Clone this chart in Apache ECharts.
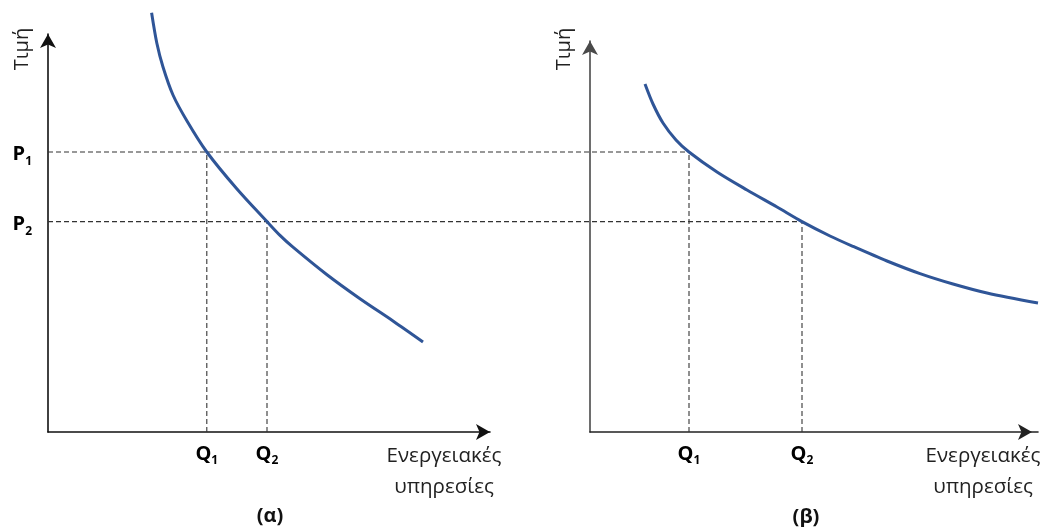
<!DOCTYPE html>
<html>
<head>
<meta charset="utf-8">
<script src="https://cdn.jsdelivr.net/npm/echarts@6/dist/echarts.min.js"></script>
<style>
html,body{margin:0;padding:0;background:#ffffff;}
#chart{width:1048px;height:527px;}
</style>
</head>
<body>
<div id="chart"></div>
<script>
// ---- data (arbitrary units) ----
const priceLevels = [7.0, 5.26];         // P1, P2
const priceLabels = ['P1', 'P2'];
const qtyA = [3.97, 5.475];              // panel (α): Q1, Q2
const qtyB = [2.475, 5.3];               // panel (β): Q1, Q2
const qtyLabels = ['Q1', 'Q2'];
const curveA = [
  [2.59, 10.48], [2.72, 9.725], [2.875, 9.125], [3.125, 8.425], [3.475, 7.775],
  [3.97, 7.0], [4.725, 6.075], [5.475, 5.26], [5.8, 4.915], [6.125, 4.62],
  [6.975, 3.93], [7.8, 3.33], [8.625, 2.775], [9.375, 2.25]
];
const curveB = [
  [1.375, 8.7], [1.575, 8.2], [1.825, 7.725], [2.15, 7.3], [2.475, 7.0],
  [3.175, 6.5], [3.925, 6.05], [4.675, 5.625], [5.3, 5.26], [6.0, 4.9],
  [6.575, 4.64], [7.425, 4.275], [8.25, 3.96], [9.075, 3.7], [9.925, 3.475],
  [11.2, 3.225]
];
const panelLabels = ['(α)', '(β)'];
const yAxisName = 'Τιμή';
const xAxisName = 'Ενεργειακές\nυπηρεσίες';

// ---- styles ----
const FONT = '"Open Sans", "Noto Sans", sans-serif';
const CURVE_COLOR = '#2f5597';
const DASH = { color: '#333333', width: 1.1, type: [5, 3] };

const chart = echarts.init(document.getElementById('chart'), null, { renderer: 'canvas' });

function subLabel(lbl) {
  return '{m|' + lbl[0] + '}{s|' + lbl.slice(1) + '}';
}
function matchIdx(arr, v) {
  return arr.findIndex(a => Math.abs(a - v) < 1e-6);
}
const rich = {
  m: { fontFamily: FONT, fontWeight: 'bold', fontSize: 20, color: '#000', lineHeight: 26 },
  s: { fontFamily: FONT, fontWeight: 'bold', fontSize: 12, color: '#000', lineHeight: 15, verticalAlign: 'bottom' }
};

function xAxisCfg(gridIndex, qty, color, max, arrowBack) {
  return {
    type: 'value', gridIndex: gridIndex, min: 0, max: max,
    axisLine: { show: true, onZero: false, symbol: ['none', 'arrow'], symbolSize: [12, 14],
      symbolOffset: [0, -arrowBack],
      lineStyle: { color: color, width: 1.6 } },
    axisTick: { show: false },
    splitLine: { show: false },
    axisLabel: {
      show: true, customValues: qty, margin: 9,
      formatter: v => { const i = matchIdx(qty, v); return i < 0 ? '' : subLabel(qtyLabels[i]); },
      rich: rich
    }
  };
}

function buildOption(hEnds) {
  const series = [
    { type: 'line', xAxisIndex: 0, yAxisIndex: 0, data: curveA, smooth: 0.3,
      showSymbol: false, clip: false, lineStyle: { color: CURVE_COLOR, width: 3 }, z: 5 },
    { type: 'line', xAxisIndex: 1, yAxisIndex: 1, data: curveB, smooth: 0.3,
      showSymbol: false, clip: false, lineStyle: { color: CURVE_COLOR, width: 3 }, z: 5 }
  ];
  qtyA.forEach((q, i) => {
    series.push({ type: 'line', xAxisIndex: 0, yAxisIndex: 0, data: [[q, 0], [q, priceLevels[i]]],
      showSymbol: false, lineStyle: DASH, z: 2 });
  });
  qtyB.forEach((q, i) => {
    series.push({ type: 'line', xAxisIndex: 1, yAxisIndex: 1, data: [[q, 0], [q, priceLevels[i]]],
      showSymbol: false, lineStyle: DASH, z: 2 });
  });
  if (hEnds) {
    // guides on a hidden overlay grid spanning both panels (same scale as the panels)
    priceLevels.forEach((p, i) => {
      series.push({ type: 'line', xAxisIndex: 2, yAxisIndex: 2, data: [[0, p], [hEnds[i], p]],
        showSymbol: false, lineStyle: DASH, z: 2 });
    });
  }
  return {
    animation: false,
    backgroundColor: '#ffffff',
    grid: [
      { left: 48, top: 34, width: 442, height: 398, outerBoundsMode: 'none', containLabel: false },
      { left: 590, top: 41, width: 448, height: 391, outerBoundsMode: 'none', containLabel: false },
      { left: 48, top: 34, width: 992, height: 398, outerBoundsMode: 'none', containLabel: false, show: false }
    ],
    xAxis: [
      xAxisCfg(0, qtyA, '#111111', 11.05, 0),
      xAxisCfg(1, qtyB, '#222222', 11.2, 6),
      { type: 'value', gridIndex: 2, min: 0, max: 24.8, show: false }
    ],
    yAxis: [
      { type: 'value', gridIndex: 0, min: 0, max: 9.95,
        axisLine: { show: true, onZero: false, symbol: ['none', 'arrow'], symbolSize: [12, 14],
          lineStyle: { color: '#111111', width: 1.6 } },
        axisTick: { show: false }, splitLine: { show: false },
        axisLabel: { show: true, customValues: priceLevels, margin: 16,
          formatter: v => { const i = matchIdx(priceLevels, v); return i < 0 ? '' : subLabel(priceLabels[i]); },
          rich: rich, padding: [5, 0, 0, 0] } },
      { type: 'value', gridIndex: 1, min: 0, max: 9.775,
        axisLine: { show: true, onZero: false, symbol: ['none', 'arrow'], symbolSize: [12, 14],
          lineStyle: { color: '#4a4a4a', width: 1.6 } },
        axisTick: { show: false }, splitLine: { show: false }, axisLabel: { show: false } },
      { type: 'value', gridIndex: 2, min: 0, max: 9.95, show: false }
    ],
    graphic: [
      { type: 'text', x: 22, y: 49, rotation: Math.PI / 2,
        style: { text: yAxisName, font: '20px ' + FONT, fill: '#222', align: 'center', verticalAlign: 'middle' } },
      { type: 'text', x: 564, y: 49, rotation: Math.PI / 2,
        style: { text: yAxisName, font: '20px ' + FONT, fill: '#222', align: 'center', verticalAlign: 'middle' } },
      { type: 'text', x: 444, y: 471.5,
        style: { text: xAxisName, font: '20.5px ' + FONT, fill: '#222', align: 'center', verticalAlign: 'middle', lineHeight: 31 } },
      { type: 'text', x: 983, y: 471.5,
        style: { text: xAxisName, font: '20.5px ' + FONT, fill: '#222', align: 'center', verticalAlign: 'middle', lineHeight: 31 } },
      { type: 'text', x: 270, y: 516,
        style: { text: panelLabels[0], font: 'bold 20px ' + FONT, fill: '#111', align: 'center', verticalAlign: 'middle' } },
      { type: 'text', x: 806, y: 517,
        style: { text: panelLabels[1], font: 'bold 20px ' + FONT, fill: '#111', align: 'center', verticalAlign: 'middle' } }
    ],
    series: series
  };
}

chart.setOption(buildOption(null));
// the guides end at panel (β)'s Q points; express that position in the overlay grid's units
const o0 = chart.convertToPixel({ xAxisIndex: 2 }, 0);
const o1 = chart.convertToPixel({ xAxisIndex: 2 }, 1);
const hEnds = qtyB.map(q => (chart.convertToPixel({ xAxisIndex: 1 }, q) - o0) / (o1 - o0));
chart.setOption(buildOption(hEnds), true);
</script>
</body>
</html>
